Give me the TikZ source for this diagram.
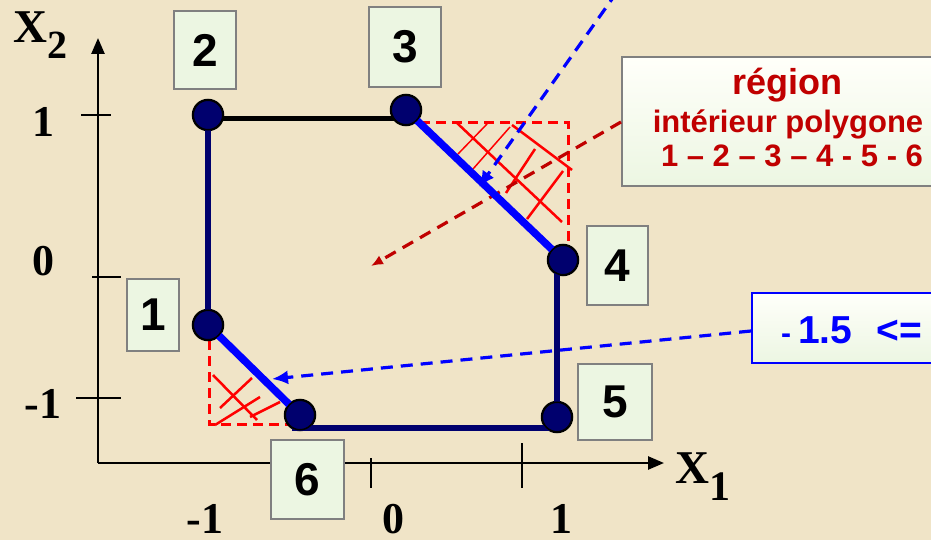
\documentclass[tikz,border=0pt]{standalone}
\usepackage{fontspec}
\setmainfont{Liberation Serif}
\newfontfamily\arial{Liberation Sans}
\usetikzlibrary{arrows.meta}
\definecolor{bg}{RGB}{240,228,199}
\definecolor{navy}{RGB}{0,0,110}
\definecolor{pblue}{RGB}{0,0,255}
\definecolor{dred}{RGB}{192,0,0}
\definecolor{boxfill}{RGB}{236,246,226}
\definecolor{boxline}{RGB}{128,128,128}
\definecolor{boxlight}{RGB}{255,255,250}
\begin{document}
\begin{tikzpicture}[x=1pt,y=-1pt,
  vtx/.style={circle,minimum size=31pt,inner sep=0pt,fill=navy,draw=black,line width=1.5pt},
  numbox/.style={draw=boxline,line width=2pt,fill=boxfill,inner sep=0pt,font=\arial\bfseries\fontsize{46}{46}\selectfont},
  axisline/.style={line width=2.5pt,-{Triangle[length=16pt,width=13pt]}},
  tickmark/.style={line width=1.8pt},
  axlab/.style={font=\bfseries\fontsize{44}{44}\selectfont,anchor=base,inner sep=0pt},
  edgeN/.style={navy,line width=5.5pt},
  edgeB/.style={pblue,line width=7.5pt},
  edgeK/.style={black,line width=5pt},
  rdash/.style={red,line width=3pt,dash pattern=on 10pt off 6pt},
  hatch/.style={red,line width=2.5pt},
  hatchthin/.style={red,line width=1.5pt},
  bdash/.style={pblue,line width=3.2pt,dash pattern=on 12pt off 8pt,-{Latex[length=16pt,width=14pt]}},
  ddash/.style={dred,line width=3.2pt,dash pattern=on 12pt off 8pt,-{Latex[length=12pt,width=10pt]}},
  regtxt/.style={text=dred,font=\arial\bfseries,anchor=base,inner sep=0pt},
]
\fill[bg] (0,0) rectangle (931,540);
\useasboundingbox (0,0) rectangle (931,540);
\clip (0,0) rectangle (931,540);

% axes
\coordinate (O) at (98,463);
\coordinate (xend) at (664,463);
\coordinate (yend) at (98,38);
\draw[axisline] (O) -- (xend);
\draw[axisline] (O) -- (yend);
\draw[tickmark] (81,115) -- (111,115);
\draw[tickmark] (92,277) -- (121,277);
\draw[tickmark] (76,398) -- (121,398);
\draw[tickmark] (371,458) -- (371,488);
\draw[tickmark] (522,443) -- (522,488);

\node[axlab] (ly1) at (43,137) {1};
\node[axlab] (ly0) at (43,275) {0};
\node[axlab] (lym) at (43,418) {-1};
\node[axlab] (lxm) at (205,533) {-1};
\node[axlab] (lx0) at (393,533) {0};
\node[axlab] (lx1) at (561,533) {1};
\node[anchor=base west,inner sep=0pt,font=\bfseries] (xl2) at (13,43)
  {\fontsize{47}{47}\selectfont X\raisebox{-16pt}{\fontsize{40}{40}\selectfont 2}};
\node[anchor=base west,inner sep=0pt,font=\bfseries] (xl1) at (675,483)
  {\fontsize{47}{47}\selectfont X\raisebox{-17pt}{\fontsize{42}{42}\selectfont 1}};

% hatching near 3-4
\draw[rdash] (420,123) -- (568,123) -- (568,245);
\draw[hatch] (457,123) -- (562,222);
\draw[hatch] (512,125) -- (572,170);
\draw[hatchthin] (458,154) -- (487,124);
\draw[hatchthin] (473,169) -- (510,127);
\draw[hatch] (506,193) -- (535,149);
\draw[hatch] (527,219) -- (563,171);

% hatching near 1-6
\draw[rdash] (209,340) -- (209,424) -- (292,424);
\draw[hatch] (213,375) -- (257,420);
\draw[hatch] (220,408) -- (252,378);
\draw[hatch] (215,425) -- (260,397);
\draw[hatch] (250,417) -- (280,402);

% vertices
\node[vtx] (n1) at (208,325) {};
\node[vtx] (n2) at (208,115) {};
\node[vtx] (n3) at (406,110) {};
\node[vtx] (n4) at (563,260) {};
\node[vtx] (n5) at (557,417) {};
\node[vtx] (n6) at (300,415) {};

% boxes
\node[numbox,minimum width=62pt,minimum height=78pt] (b2) at (205,50) {2};
\node[numbox,minimum width=72pt,minimum height=80pt] (b3) at (405,47) {3};
\node[numbox,minimum width=61pt,minimum height=79pt] (b4) at (617.5,265.5) {4};
\node[numbox,minimum width=74pt,minimum height=76pt] (b5) at (615,402) {5};
\node[numbox,minimum width=52pt,minimum height=72pt] (b1) at (153,315) {1};
\node[numbox,minimum width=73pt,minimum height=79pt] (b6) at (307.5,479.5) {6};

\node[draw=boxline,line width=2pt,top color=boxlight,bottom color=boxfill,
      minimum width=336pt,minimum height=129pt,inner sep=0pt] (reg) at (790,121.5) {};
\node[regtxt,font=\arial\bfseries\fontsize{36}{36}\selectfont] (r1) at (787,95) {région};
\node[regtxt,font=\arial\bfseries\fontsize{31}{31}\selectfont] (r2) at (788,133) {intérieur polygone};
\node[regtxt,font=\arial\bfseries\fontsize{31}{31}\selectfont] (r3) at (792,167) {1 – 2 – 3 – 4 - 5 - 6};

\node[draw=pblue,line width=2pt,top color=boxlight,bottom color=boxfill,
      minimum width=250pt,minimum height=70pt,inner sep=0pt] (ineq) at (877,328) {};
\node[anchor=base west,inner sep=0pt,text=pblue,font=\arial\bfseries\fontsize{39}{39}\selectfont] (ineqt) at (781,343)
  {{\fontsize{30}{30}\selectfont -}\hspace{7pt}1.5\hspace{24pt}<=};

% arrows
\coordinate (a1s) at (617,-8);
\coordinate (a1e) at (479,187);
\coordinate (a2e) at (272,379);
\coordinate (a3e) at (371,266);
\draw[bdash] (a1s) -- (a1e);
\draw[bdash] (ineq.west |- 0,331) -- (a2e);
\draw[ddash] (reg.west |- 0,122) -- (a3e);

% edges
\draw[edgeN] (n1.center) -- (n2.center);
\draw[edgeK] ([yshift=-4pt]n2.center) -- ([yshift=-9pt]n3.center);
\draw[edgeB] (n3.center) -- (n4.center);
\draw[edgeN] ([xshift=-6pt]n4.center) -- (n5.center);
\draw[edgeN] ([yshift=-13pt,xshift=-8pt]n6.center) -- ([yshift=-11pt]n5.center);
\draw[edgeB] (n6.center) -- (n1.center);

% redraw vertices on top of their edges
\foreach \v in {n1,n2,n3,n4,n5,n6}{
  \fill[navy] (\v.center) circle (14.75pt);
  \draw[black,line width=1.5pt] (\v.center) circle (14.75pt);
}
\end{tikzpicture}
\end{document}
